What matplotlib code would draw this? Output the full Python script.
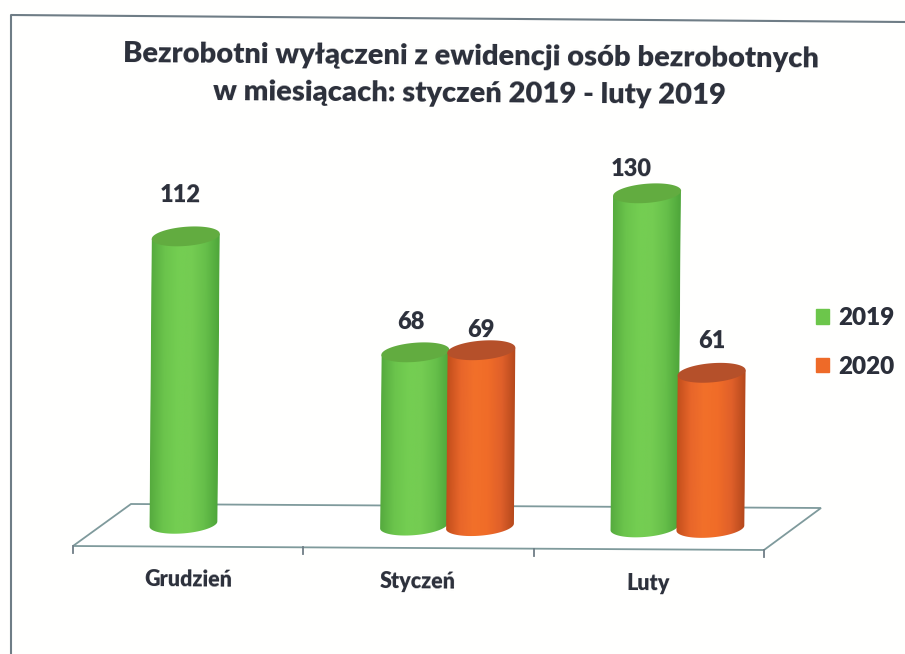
import matplotlib
matplotlib.use("Agg")
import matplotlib.pyplot as plt
import numpy as np
from matplotlib.patches import Patch, Polygon
from matplotlib.transforms import Affine2D

# chart data
months = ["Grudzień", "Styczeń", "Luty"]
series_names = ["2019", "2020"]
values_2019 = [112, 68, 130]
values_2020 = [None, 69, 61]
title_lines = ["Bezrobotni wyłączeni z ewidencji osób bezrobotnych",
               "w miesiącach: styczeń 2019 - luty 2019"]

W, H = 905, 654
TILT = -0.45  # the page was scanned slightly crooked
DARK = "#2b2f3a"
plt.rcParams["font.family"] = ["Lato", "DejaVu Sans"]

fig = plt.figure(figsize=(W / 100, H / 100), dpi=100, facecolor="#fffffe")
ax = fig.add_axes([0, 0, 1, 1])
ax.axis("off")

# one category = 230.5 px, value 1 = 2.594 px, zero sits at pixel row 529
xlim = (-218 / 230.5, (W - 218) / 230.5)
ylim = ((529 - H) / 2.594, 529 / 2.594)
px = Affine2D().scale(1, -1).translate(0, H)
rot = Affine2D().rotate_deg_around(W / 2, H / 2, TILT)


def cylinder(x, value, colors, cap, zorder):
    tr = ax.transData + rot
    t = np.linspace(0, 2 * np.pi, 90)
    half_w, half_h, lean, base = 0.1475, 3.7, 1.1, 1.2
    ex = half_w * np.cos(t)
    ey = half_h * np.sin(t) + lean * np.cos(t)
    low = t[(t >= np.pi)]
    body_x = x + half_w * np.cos(low)
    body_y = base + half_h * np.sin(low) + lean * np.cos(low)
    body = np.column_stack([np.r_[body_x, x + half_w, x - half_w],
                            np.r_[body_y, value + lean, value - lean]])
    shape = Polygon(body, closed=True, transform=tr, facecolor="none", edgecolor="none")
    ax.add_patch(shape)
    cmap = matplotlib.colors.LinearSegmentedColormap.from_list("c", colors)
    im = ax.imshow(np.linspace(0, 1, 128)[None, :], cmap=cmap, aspect="auto",
                   extent=(x - half_w, x + half_w, -6, value + 3), zorder=zorder)
    im.set_transform(tr)
    im.set_clip_path(shape)
    ax.fill(x + ex, value + ey, color=cap, transform=tr, zorder=zorder + 0.5, lw=0)


# page frame and floor
ax.plot([11, 11, W], [H, 15, 22], color="#6f7d86", lw=1.5, transform=px, zorder=1)
ax.add_patch(Polygon([(73, 546), (131, 504), (821, 508), (764, 550)], closed=True,
                     facecolor="white", edgecolor="#7f9a9c", lw=1.3, transform=px, zorder=1))
for tick_x, tick_y in [(73, 546), (303, 547), (534, 549), (764, 550)]:
    ax.plot([tick_x, tick_x], [tick_y, tick_y + 7], color="#6f7d86", lw=1.3,
            transform=px, zorder=1)

green = ["#55aa3e", "#6bc44c", "#74ce52", "#74cc52", "#66bf4a", "#4ea63a"]
orange = ["#c24e1c", "#e8662a", "#f2702a", "#f06c28", "#e0602a", "#b4481c"]
green_cap, orange_cap = "#62ac40", "#b5502a"

for i, v in enumerate(values_2019):
    cylinder(i - 0.143, v, green, green_cap, 3)
for i, v in enumerate(values_2020):
    if v is not None:
        cylinder(i + 0.143, v, orange, orange_cap, 5)

ax.set_xlim(*xlim)
ax.set_ylim(*ylim)

# value labels, nudged by hand as in the original
label_style = dict(ha="center", va="center", fontsize=17, fontweight="heavy", color=DARK,
                   rotation=TILT, textcoords="offset pixels", zorder=8)
nudge_2019 = [(-5, 41), (-4, 30), (-16, 24)]
nudge_2020 = [None, (0, 20), (0, 32)]
for i, v in enumerate(values_2019):
    ax.annotate(str(v), (i - 0.143, v), xycoords=ax.transData + rot, xytext=nudge_2019[i], **label_style)
for i, v in enumerate(values_2020):
    if v is not None:
        ax.annotate(str(v), (i + 0.143, v), xycoords=ax.transData + rot, xytext=nudge_2020[i], **label_style)

# month names under the floor
for (x, y), name in zip([(188, 580), (418, 582), (648, 584)], months):
    ax.text(x, y, name, transform=px, ha="center", va="center", fontsize=15.5,
            fontweight="heavy", color=DARK, rotation=TILT)

# title
for (x, y), line in zip([(471, 57), (470, 94)], title_lines):
    ax.text(x, y, line, transform=px, ha="center", va="center", fontsize=21,
            fontweight="heavy", color=DARK, rotation=TILT)

handles = [Patch(color="#6cc64b"), Patch(color="#ee6a28")]
ax.legend(handles, series_names, loc="center left", bbox_to_anchor=(794 / W, 1 - 342.5 / H),
          frameon=False, handlelength=0.55, handleheight=0.55, handletextpad=0.35,
          labelspacing=1.08, prop={"size": 17.5, "weight": "heavy"}, labelcolor=DARK)

fig.savefig("out.png", dpi=100, facecolor=fig.get_facecolor())
